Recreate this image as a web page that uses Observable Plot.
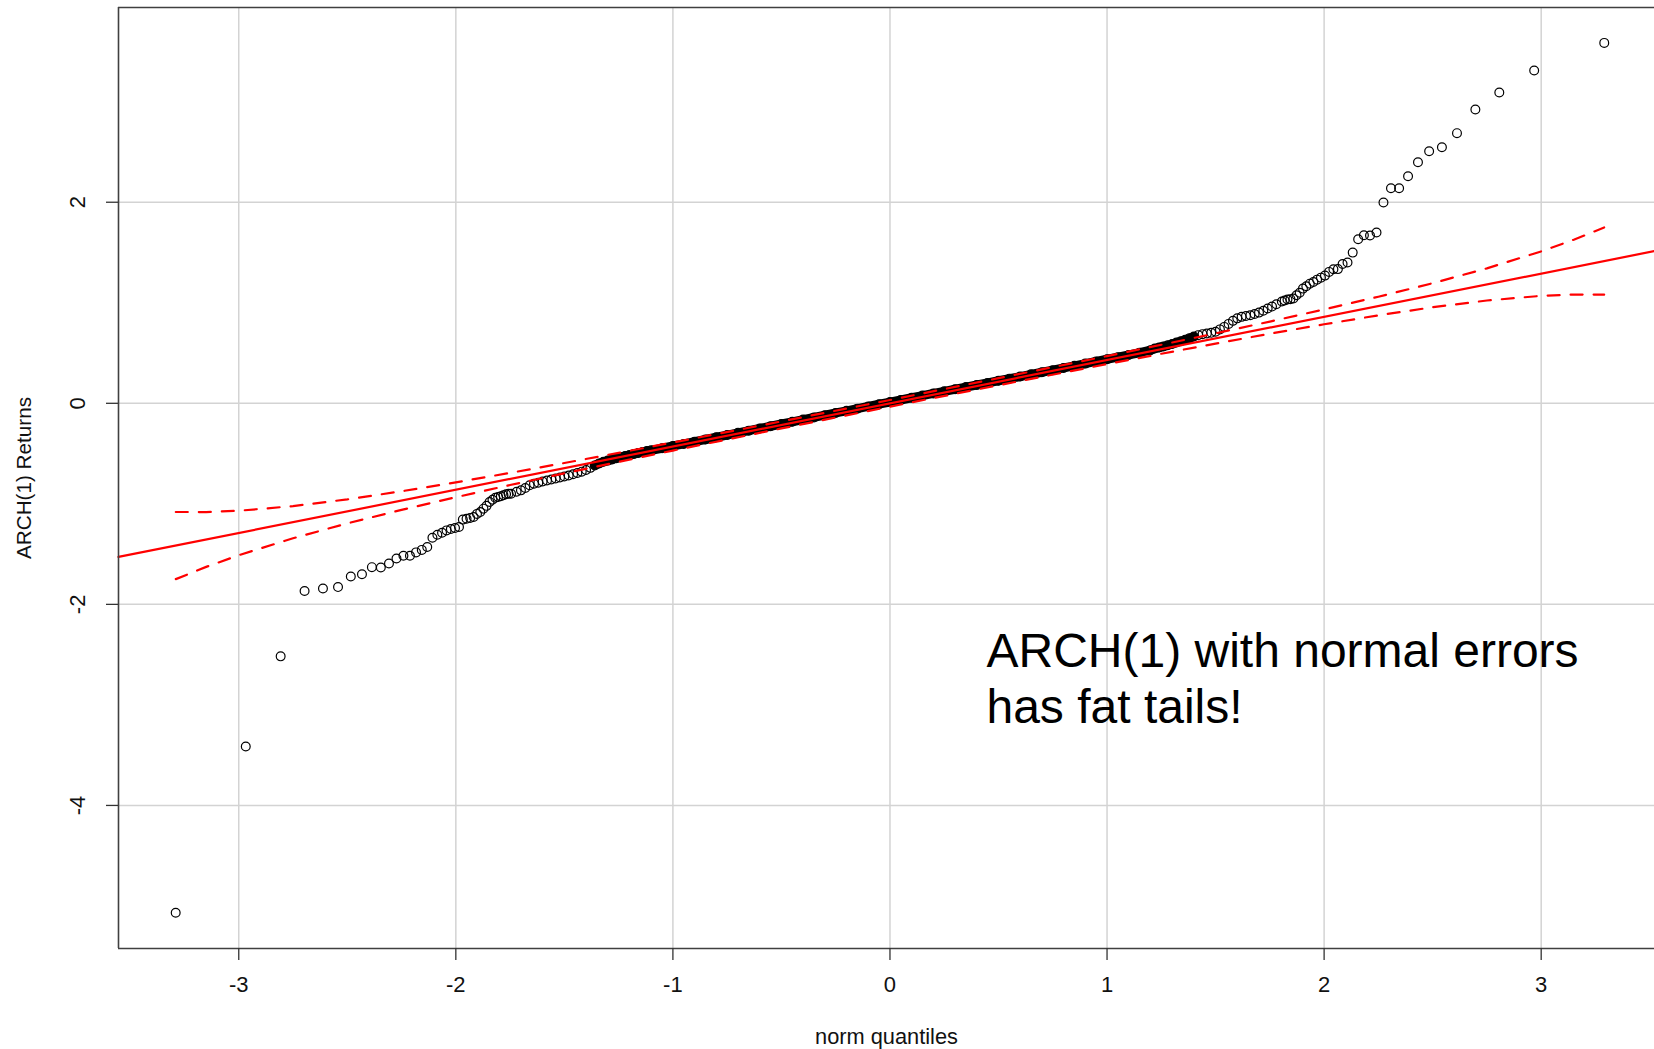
<!DOCTYPE html>
<html>
<head>
<meta charset="utf-8">
<script src="https://cdn.jsdelivr.net/npm/d3@7"></script>
<script src="https://cdn.jsdelivr.net/npm/@observablehq/plot@0.6"></script>
<style>
  html, body { margin: 0; padding: 0; background: #fff; }
  svg { display: block; }
</style>
</head>
<body>
<div id="chart"></div>
<script>
// ---- Data ----
// Lower tail: individual points (norm quantile, sample value)
const lowerTailX = [-3.2905,-2.9677,-2.8070,-2.6968,-2.6121,-2.5427,-2.4838,-2.4324,-2.3867,-2.3455,-2.3080,-2.2734,-2.2414,-2.2114,-2.1833,-2.1568,-2.1317,-2.1078,-2.0851,-2.0635,-2.0428,-2.0229,-2.0038,-1.9854,-1.9677,-1.9506,-1.9340,-1.9180,-1.9025,-1.8874,-1.8728,-1.8585,-1.8447,-1.8312,-1.8181,-1.8053,-1.7928,-1.7805,-1.7686,-1.7569,-1.7455];
const lowerTailY = [-5.068,-3.413,-2.517,-1.867,-1.842,-1.828,-1.723,-1.700,-1.630,-1.633,-1.594,-1.544,-1.517,-1.516,-1.483,-1.458,-1.430,-1.337,-1.307,-1.287,-1.264,-1.250,-1.240,-1.231,-1.157,-1.148,-1.140,-1.131,-1.100,-1.082,-1.048,-1.020,-0.982,-0.960,-0.940,-0.932,-0.925,-0.915,-0.905,-0.900,-0.899];

// Dense body of the point cloud, read along its path
const bandX = [-1.72,-1.70,-1.68,-1.66,-1.64,-1.62,-1.60,-1.58,-1.56,-1.54,-1.52,-1.50,-1.48,-1.46,-1.44,-1.42,-1.40,-1.38,-1.36,-1.34,-1.32,-1.30,-1.28,-1.26,-1.24,-1.22,-1.20,-1.18,-1.16,-1.14,-1.12,
  -1.10,-1.05,-1.00,-0.95,-0.90,-0.85,-0.80,-0.75,-0.70,-0.65,-0.60,-0.55,-0.50,-0.45,-0.40,-0.35,-0.30,-0.25,-0.20,-0.15,-0.10,-0.05,0.00,0.05,0.10,0.15,0.20,0.25,0.30,0.35,0.40,0.45,0.50,0.55,0.60,0.65,0.70,0.75,0.80,0.85,0.90,0.95,1.00,1.05,1.10,1.15,1.20,
  1.22,1.24,1.26,1.28,1.30,1.32,1.34,1.36,1.38,1.40,1.42,1.44,1.46,1.48,1.50,1.52,1.54,1.56,1.58,1.60,1.62,1.64,1.66,1.68,1.70,1.72,1.74,1.76,1.78];
const bandY = [-0.880,-0.866,-0.842,-0.816,-0.800,-0.790,-0.778,-0.768,-0.758,-0.748,-0.738,-0.728,-0.718,-0.706,-0.694,-0.680,-0.664,-0.642,-0.618,-0.598,-0.582,-0.570,-0.558,-0.546,-0.535,-0.525,-0.515,-0.505,-0.495,-0.485,-0.475,
  -0.468,-0.447,-0.425,-0.404,-0.382,-0.360,-0.338,-0.316,-0.294,-0.272,-0.250,-0.228,-0.206,-0.184,-0.162,-0.140,-0.118,-0.096,-0.075,-0.053,-0.031,-0.009,0.012,0.033,0.055,0.077,0.098,0.119,0.140,0.161,0.182,0.203,0.224,0.245,0.266,0.288,0.309,0.330,0.352,0.373,0.395,0.417,0.438,0.459,0.481,0.503,0.528,
  0.545,0.555,0.566,0.577,0.590,0.604,0.618,0.632,0.648,0.664,0.678,0.688,0.694,0.701,0.712,0.735,0.760,0.790,0.820,0.845,0.860,0.868,0.876,0.888,0.902,0.920,0.943,0.962,0.985];

// Upper tail: individual points
const upperTailX = [1.8053,1.8181,1.8312,1.8447,1.8585,1.8728,1.8874,1.9025,1.9180,1.9340,1.9506,1.9677,1.9854,2.0038,2.0229,2.0428,2.0635,2.0851,2.1078,2.1317,2.1568,2.1833,2.2114,2.2414,2.2734,2.3080,2.3455,2.3867,2.4324,2.4838,2.5427,2.6121,2.6968,2.8070,2.9677,3.2905];
const upperTailY = [1.012,1.022,1.032,1.036,1.042,1.075,1.100,1.141,1.165,1.190,1.207,1.230,1.250,1.270,1.307,1.333,1.335,1.385,1.400,1.499,1.632,1.672,1.669,1.699,1.997,2.139,2.139,2.259,2.398,2.507,2.547,2.687,2.922,3.091,3.310,3.585];

// Reference line (through the quartiles)
const fitIntercept = 0.0;
const fitSlope = 0.430;

// Pointwise confidence envelope (dashed)
const envX =     [-3.29,-3.15,-3.00,-2.75,-2.50,-2.25,-2.00,-1.75,-1.50,-1.25,-1.00,-0.50,0.00,0.50,1.00,1.25,1.50,1.75,2.00,2.25,2.50,2.75,3.00,3.15,3.29];
const envUpper = [-1.081,-1.082,-1.069,-1.0225,-0.9555,-0.875,-0.786,-0.692,-0.594,-0.493,-0.390,-0.180,0.033,0.250,0.470,0.582,0.696,0.813,0.934,1.060,1.1945,1.3425,1.511,1.627,1.749];
const envLower = [-1.749,-1.627,-1.511,-1.3425,-1.1945,-1.060,-0.934,-0.813,-0.696,-0.582,-0.470,-0.250,-0.033,0.180,0.390,0.493,0.594,0.692,0.786,0.875,0.9555,1.0225,1.069,1.082,1.081];

// Axes
const xTicks = [-3,-2,-1,0,1,2,3];
const yTicks = [-4,-2,0,2];
const xDomain = [-3.554, 3.522];
const yDomain = [-5.423, 3.937];

const xLabel = "norm quantiles";
const yLabel = "ARCH(1) Returns";
const noteText = "ARCH(1) with normal errors\nhas fat tails!";
const noteX = 0.4446, noteY = -2.223;

// ---- Build tables ----
const lower = lowerTailX.map((x, i) => ({x, y: lowerTailY[i]}));
const band = bandX.map((x, i) => ({x, y: bandY[i]}));
const upper = upperTailX.map((x, i) => ({x, y: upperTailY[i]}));
const points = [...lower, ...band, ...upper];
const core = band.filter(d => d.x >= -1.36 && d.x <= 1.40);
const env = envX.map((x, i) => ({x, upper: envUpper[i], lower: envLower[i]}));
const fit = xDomain.map(x => ({x, y: fitIntercept + fitSlope * x}));

const font = "'Liberation Sans', Arial, Helvetica, sans-serif";
const red = "#ff0000";

const chart = Plot.plot({
  width: 1654,
  height: 1049,
  marginLeft: 118,
  marginRight: 0,
  marginTop: 7,
  marginBottom: 101,
  x: {domain: xDomain},
  y: {domain: yDomain},
  style: {fontFamily: font, background: "#fff", color: "#111"},
  marks: [
    Plot.ruleX(xTicks, {stroke: "#d3d3d3", strokeWidth: 1.5}),
    Plot.ruleY(yTicks, {stroke: "#d3d3d3", strokeWidth: 1.5}),
    Plot.line(core, {x: "x", y: "y", stroke: "#000", strokeWidth: 9}),
    Plot.dot(points, {x: "x", y: "y", r: 4.4, stroke: "#000", strokeWidth: 1.2, fill: "none"}),
    Plot.line(fit, {x: "x", y: "y", stroke: red, strokeWidth: 2.2}),
    Plot.line(env, {x: "x", y: "upper", stroke: red, strokeWidth: 2.2, strokeDasharray: "12,11"}),
    Plot.line(env, {x: "x", y: "lower", stroke: red, strokeWidth: 2.2, strokeDasharray: "12,11"}),
    Plot.ruleX([xDomain[0]], {stroke: "#404040", strokeWidth: 1.6}),
    Plot.ruleY(yDomain, {stroke: "#404040", strokeWidth: 1.6}),
    Plot.axisX(xTicks, {tickSize: 12, tickPadding: 16, fontSize: 22, stroke: "#333", strokeWidth: 1.3, color: "#111", tickFormat: d => String(d), label: null}),
    Plot.axisY(yTicks, {tickSize: 12, stroke: "#333", strokeWidth: 1.3, tickFormat: () => "", label: null}),
    Plot.text(yTicks, {y: d => d, frameAnchor: "left", dx: -41, rotate: -90, text: d => String(d), fontSize: 22, fill: "#111", textAnchor: "middle", lineAnchor: "middle"}),
    Plot.text([yLabel], {frameAnchor: "left", dx: -94, rotate: -90, text: d => d, fontSize: 21, fill: "#111", textAnchor: "middle", lineAnchor: "middle"}),
    Plot.text([xLabel], {frameAnchor: "bottom", dy: 80, text: d => d, fontSize: 21.8, fill: "#111", textAnchor: "middle", lineAnchor: "top"}),
    Plot.text([noteText], {x: noteX, y: noteY, text: d => d, fontSize: 48, fill: "#000", textAnchor: "start", lineAnchor: "top", lineHeight: 1.17})
  ]
});

// condense the rotated y label to the width seen in the reference
d3.select(chart).selectAll("text").each(function() {
  if (this.textContent === yLabel) {
    this.setAttribute("textLength", 162);
    this.setAttribute("lengthAdjust", "spacingAndGlyphs");
  }
});

document.getElementById("chart").appendChild(chart);
</script>
</body>
</html>
